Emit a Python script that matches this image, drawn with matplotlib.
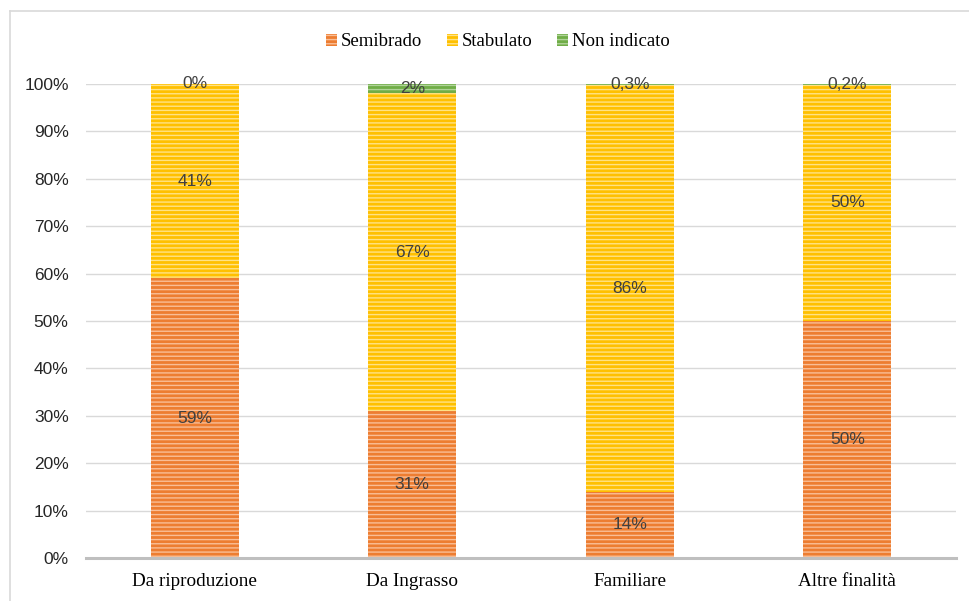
import matplotlib
matplotlib.use("Agg")
import matplotlib.pyplot as plt
from matplotlib.patches import Patch
from matplotlib.lines import Line2D
import numpy as np

categories = ["Da riproduzione", "Da Ingrasso", "Familiare", "Altre finalità"]
series_names = ["Semibrado", "Stabulato", "Non indicato"]
semibrado = [59, 31, 14, 50]
stabulato = [41, 67, 85.7, 49.8]
non_indicato = [0, 2, 0.3, 0.2]
labels_semibrado = ["59%", "31%", "14%", "50%"]
labels_stabulato = ["41%", "67%", "86%", "50%"]
labels_non = ["0%", "2%", "0,3%", "0,2%"]
yticks = [0, 10, 20, 30, 40, 50, 60, 70, 80, 90, 100]

colors = ["#ED7D31", "#FFC000", "#70AD47"]
hatch_colors = ["#F9BE96", "#FFE285", "#AFD398"]

W, H = 970, 601
fig = plt.figure(figsize=(W / 100, H / 100), dpi=100)
ax = fig.add_axes([86 / W, (H - 558) / H, (956 - 86) / W, (558 - 84) / H])

plt.rcParams['hatch.linewidth'] = 1.0
x = np.arange(len(categories))
width = 0.405
data = [semibrado, stabulato, non_indicato]
labs = [labels_semibrado, labels_stabulato, labels_non]
bottom = np.zeros(len(categories))
for vals, c, hc, lab in zip(data, colors, hatch_colors, labs):
    vals = np.array(vals, dtype=float)
    ax.bar(x, vals, width, bottom=bottom, color=c, edgecolor=hc, hatch="----",
           linewidth=0, zorder=3)
    for xi, b, v, t in zip(x, bottom, vals, lab):
        ax.text(xi, b + v / 2, t, ha="center", va="center", fontsize=12.5,
                color="#404040", family="Liberation Sans", zorder=5)
    bottom += vals

ax.set_xlim(-0.5, len(categories) - 0.5)
ax.set_ylim(0, 100)
ax.set_yticks(yticks)
ax.set_yticklabels([f"{v}%" for v in yticks], fontsize=12.5, color="#262626",
                   family="Liberation Sans")
ax.set_xticks(x)
ax.set_xticklabels(categories, fontsize=13.8, family="Liberation Serif", color="black")
ax.tick_params(axis="y", length=0, pad=12.5)
ax.tick_params(axis="x", length=0, pad=10.5)
ax.grid(axis="y", color="#D9D9D9", linewidth=1.0, zorder=0)
ax.set_axisbelow(True)
for s in ["top", "right", "left"]:
    ax.spines[s].set_visible(False)
ax.spines["bottom"].set_color("#BFBFBF")
ax.spines["bottom"].set_linewidth(2.2)
ax.spines["bottom"].set_zorder(4)

handles = [Patch(facecolor=c, edgecolor=hc, hatch="----", linewidth=0)
           for c, hc in zip(colors, hatch_colors)]
fig.legend(handles, series_names, loc="center", bbox_to_anchor=(498 / W, 1 - 42 / H),
           ncol=3, frameon=False, prop={"family": "Liberation Serif", "size": 13.5},
           handlelength=0.6, handleheight=0.6, handletextpad=0.2, columnspacing=1.3)

# chart frame
fig.add_artist(Line2D([10.5 / W, 10.5 / W], [0, 1 - 11 / H], transform=fig.transFigure,
                      color="#D9D9D9", linewidth=1.2))
fig.add_artist(Line2D([10.5 / W, 1], [1 - 11 / H, 1 - 11 / H], transform=fig.transFigure,
                      color="#D9D9D9", linewidth=1.2))

fig.savefig("out.png", dpi=100)
